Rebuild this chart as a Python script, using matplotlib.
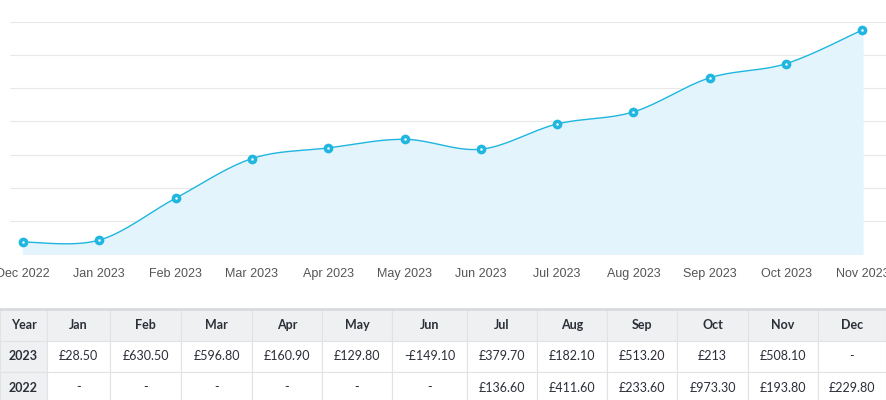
import numpy as np
import matplotlib
matplotlib.use("Agg")
import matplotlib.pyplot as plt
from matplotlib.patches import Rectangle

months_axis = ["Dec 2022","Jan 2023","Feb 2023","Mar 2023","Apr 2023","May 2023",
               "Jun 2023","Jul 2023","Aug 2023","Sep 2023","Oct 2023","Nov 2023"]
cumulative = [0, 28.5, 659.0, 1255.8, 1416.7, 1546.5, 1397.4, 1777.1, 1959.2, 2472.4, 2685.4, 3193.5]

table_cols = ["Year","Jan","Feb","Mar","Apr","May","Jun","Jul","Aug","Sep","Oct","Nov","Dec"]
row_2023 = ["2023","£28.50","£630.50","£596.80","£160.90","£129.80","-£149.10","£379.70","£182.10","£513.20","£213","£508.10","-"]
row_2022 = ["2022","-","-","-","-","-","-","£136.60","£411.60","£233.60","£973.30","£193.80","£229.80"]

W, H = 886, 400
fig = plt.figure(figsize=(W/100, H/100), dpi=100)
font = "Lato"

def fx(px): return px / W
def fy(py): return 1 - py / H

ax = fig.add_axes([fx(10), fy(254), fx(886-10), (254-22)/H])
x = np.arange(len(cumulative))
y = np.array(cumulative, float)
xs, ys = [], []
P = np.column_stack([x, y])
P = np.vstack([P[0], P, P[-1]])
for i in range(1, len(P)-2):
    p0, p1, p2, p3 = P[i-1], P[i], P[i+1], P[i+2]
    t = np.linspace(0, 1, 20)[:, None]
    c = 0.5*((2*p1) + (-p0+p2)*t + (2*p0-5*p1+4*p2-p3)*t**2 + (-p0+3*p1-3*p2+p3)*t**3)
    xs.extend(c[:, 0]); ys.extend(c[:, 1])
ymin, ymax = -181, 3313
ax.fill_between(xs, ys, ymin, color="#e3f4fc", zorder=1)
ax.plot(xs, ys, color="#1fb6e0", lw=1, zorder=2)
ax.plot(x, y, "o", ms=7, color="#1fb6e0", mec="#1fb6e0", mew=0, zorder=3)
ax.plot(x, y, "o", ms=1.8, color="white", mew=0, zorder=4)
for g in np.linspace(ymin, ymax, 8):
    ax.axhline(g, color="#e8e8e8", lw=0.8, zorder=0)
ax.set_xlim(-0.17, 11.31)
ax.set_ylim(ymin, ymax)
ax.set_yticks([])
ax.set_xticks(x)
ax.set_xticklabels(months_axis, fontsize=9, color="#555555", family="Liberation Sans")
ax.tick_params(axis="x", length=0, pad=10)
for s in ax.spines.values():
    s.set_visible(False)

edges = [0, 47, 110, 181, 252, 322, 392, 467, 537, 607, 677, 748, 818, 886]
rows_y = [309, 341, 372, 403]
tax = fig.add_axes([0, 0, 1, 1])
tax.set_xlim(0, W); tax.set_ylim(H, 0); tax.axis("off")
rows = [table_cols, row_2023, row_2022]
for r, row in enumerate(rows):
    y0, y1 = rows_y[r], rows_y[r+1]
    for c, txt in enumerate(row):
        x0, x1 = edges[c], edges[c+1]
        bg = "#eef0f2" if (r == 0 or c == 0) else "white"
        tax.add_patch(Rectangle((x0, y0), x1-x0, y1-y0, facecolor=bg, edgecolor="#e0e2e5", lw=0.8))
        bold = (r == 0 or c == 0)
        tax.text((x0+x1)/2, (y0+y1)/2, txt, ha="center", va="center", fontsize=9,
                 family=font, fontweight="bold" if bold else "normal", color="#2b2f38")
tax.plot([0, W], [309, 309], color="#d8dadd", lw=2)

fig.savefig("out.png", dpi=100)
